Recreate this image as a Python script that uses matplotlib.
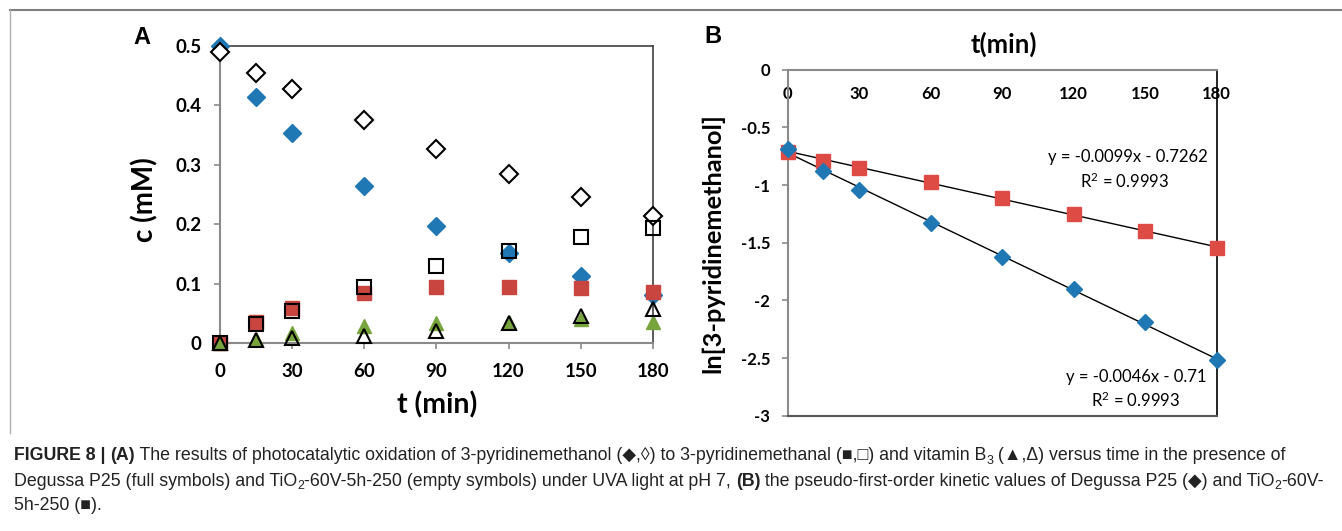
import numpy as np
import matplotlib
matplotlib.use("Agg")
import matplotlib.pyplot as plt
from matplotlib.ticker import FuncFormatter, FixedLocator
from matplotlib import font_manager

plt.rcParams['axes.unicode_minus'] = False
plt.rcParams['mathtext.default'] = 'regular'

# ---------------- data ----------------
t = [0, 15, 30, 60, 90, 120, 150, 180]
# Panel A: concentration c (mM)
alc_p25 = [0.500, 0.414, 0.354, 0.264, 0.197, 0.151, 0.113, 0.080]   # filled diamonds
alc_tio2 = [0.490, 0.455, 0.428, 0.376, 0.327, 0.285, 0.246, 0.213]  # empty diamonds
ald_p25 = [0.000, 0.035, 0.059, 0.084, 0.094, 0.095, 0.092, 0.086]   # filled squares
ald_tio2 = [0.000, 0.032, 0.054, 0.095, 0.130, 0.155, 0.178, 0.193]  # empty squares
b3_p25 = [0.000, 0.006, 0.016, 0.028, 0.034, 0.036, 0.040, 0.036]    # filled triangles
b3_tio2 = [0.000, 0.005, 0.008, 0.012, 0.021, 0.034, 0.045, 0.057]   # empty triangles

# Panel B: ln[3-pyridinemethanol]
ln_p25 = [-0.69, -0.88, -1.04, -1.33, -1.62, -1.90, -2.19, -2.52]
ln_tio2 = [-0.71, -0.79, -0.85, -0.97, -1.11, -1.25, -1.40, -1.55]

xticks = [0, 30, 60, 90, 120, 150, 180]
yticksA = [0, 0.1, 0.2, 0.3, 0.4, 0.5]
yticksB = [0, -0.5, -1, -1.5, -2, -2.5, -3]
eq1 = ["y = -0.0099x - 0.7262", "R$^2$ = 0.9993"]
eq2 = ["y = -0.0046x - 0.71", "R$^2$ = 0.9993"]

W, H = 1342, 531
fig = plt.figure(figsize=(W / 100, H / 100), dpi=100)

def fx(x):
    return x / W

def fy(y):
    return 1 - y / H

BLUE = '#1F77B4'
RED_A = '#C8463F'
RED_B = '#DE4B45'
GREEN = '#77A43C'
TICKFONT = 'Lato'

fmt = FuncFormatter(lambda v, p: '%g' % v)
ms_kw = dict(linestyle='none', clip_on=False)

# ---------------- Panel A ----------------
axA = fig.add_axes([fx(219.5), fy(343), fx(653) - fx(219.5), fy(46) - fy(343)])
axA.set_xlim(0, 180)
axA.set_ylim(0, 0.5)
axA.plot(t, alc_p25, marker='D', ms=8.8, mfc=BLUE, mec=BLUE, zorder=3, **ms_kw)
axA.plot(t, alc_tio2, marker='D', ms=9.2, mfc='white', mec='black', mew=1.5, zorder=4, **ms_kw)
axA.plot(t, ald_p25, marker='s', ms=10, mfc=RED_A, mec=RED_A, zorder=5, **ms_kw)
axA.plot(t, ald_tio2, marker='s', ms=10, mfc='none', mec='black', mew=1.5, zorder=6, **ms_kw)
axA.plot(t, b3_p25, marker='^', ms=10, mfc=GREEN, mec=GREEN, zorder=7, **ms_kw)
axA.plot(t, b3_tio2, marker='^', ms=10, mfc='none', mec='black', mew=1.5, zorder=8, **ms_kw)

axA.xaxis.set_major_locator(FixedLocator(xticks))
axA.yaxis.set_major_locator(FixedLocator(yticksA))
axA.xaxis.set_major_formatter(fmt)
axA.yaxis.set_major_formatter(fmt)
for s in ['left', 'bottom']:
    axA.spines[s].set_color('#8A8A8A')
    axA.spines[s].set_linewidth(1.5)
for s in ['top', 'right']:
    axA.spines[s].set_color('#404040')
    axA.spines[s].set_linewidth(1.2)
axA.tick_params(axis='both', colors='#8A8A8A', length=4.2, width=1.2, direction='out')
axA.tick_params(axis='x', pad=10)
axA.tick_params(axis='y', pad=8.5)
for lab in axA.get_xticklabels() + axA.get_yticklabels():
    lab.set_fontfamily(TICKFONT)
    lab.set_fontweight('bold')
    lab.set_fontsize(13.5)
    lab.set_color('black')

fig.text(fx(437), fy(405), 't (min)', ha='center', va='center', fontsize=20.5,
         fontweight='bold', family=TICKFONT)
fig.text(fx(145), fy(200), 'c (mM)', ha='center', va='center', fontsize=20,
         fontweight='bold', family=TICKFONT, rotation=90)
fig.text(fx(142), fy(37), 'A', ha='center', va='center', fontsize=17,
         fontweight='bold', family='Liberation Sans')

# ---------------- Panel B ----------------
axB = fig.add_axes([fx(787.7), fy(415.7), fx(1216.7) - fx(787.7), fy(69.7) - fy(415.7)])
axB.set_xlim(0, 180)
axB.set_ylim(-3, 0)
axB.plot(t, ln_p25, marker='D', ms=8.5, mfc=BLUE, mec=BLUE, zorder=5, **ms_kw)
axB.plot(t, ln_tio2, marker='s', ms=10.5, mfc=RED_B, mec=RED_B, zorder=4, **ms_kw)
tt = np.array([0, 180])
for series in (ln_p25, ln_tio2):
    k, b = np.polyfit(t, series, 1)
    axB.plot(tt, k * tt + b, color='black', lw=1.0, zorder=3)

axB.spines['bottom'].set_position(('data', 0))
axB.spines['bottom'].set_color('#8A8A8A')
axB.spines['bottom'].set_linewidth(1.5)
axB.spines['top'].set_position(('data', -3))
axB.spines['top'].set_color('#555555')
axB.spines['top'].set_linewidth(1.5)
axB.spines['left'].set_color('#8A8A8A')
axB.spines['left'].set_linewidth(1.5)
axB.spines['right'].set_color('black')
axB.spines['right'].set_linewidth(1.2)
axB.xaxis.set_major_locator(FixedLocator(xticks))
axB.yaxis.set_major_locator(FixedLocator(yticksB))
axB.xaxis.set_major_formatter(fmt)
axB.yaxis.set_major_formatter(fmt)
axB.tick_params(axis='x', length=0, pad=12)
axB.tick_params(axis='y', colors='#8A8A8A', length=4.3, width=1.2, direction='out', pad=8.4)
for lab in axB.get_xticklabels() + axB.get_yticklabels():
    lab.set_fontfamily(TICKFONT)
    lab.set_fontweight('bold')
    lab.set_fontsize(12)
    lab.set_color('black')

fig.text(fx(1004), fy(44), 't(min)', ha='center', va='center', fontsize=18.5,
         fontweight='bold', family=TICKFONT)
fig.text(fx(713), fy(243), 'ln[3-pyridinemethanol]', ha='center', va='center', fontsize=18.3,
         fontweight='bold', family=TICKFONT, rotation=90)
fig.text(fx(713), fy(36.5), 'B', ha='center', va='center', fontsize=17,
         fontweight='bold', family='Liberation Sans')

fig.text(fx(1128), fy(157), eq1[0], ha='center', va='center', fontsize=12, family='Lato')
fig.text(fx(1125), fy(181), eq1[1], ha='center', va='center', fontsize=12, family='Lato')
fig.text(fx(1136), fy(377), eq2[0], ha='center', va='center', fontsize=12, family='Lato')
fig.text(fx(1136), fy(400), eq2[1], ha='center', va='center', fontsize=12, family='Lato')

# ---------------- frame ----------------
fig.add_artist(plt.Line2D([fx(10), fx(1342)], [fy(10), fy(10)], color='#808080', lw=1.5))
fig.add_artist(plt.Line2D([fx(10), fx(10)], [fy(10), fy(433)], color='#B0B0B0', lw=1.0))

# ---------------- caption ----------------
renderer = fig.canvas.get_renderer()
try:
    font_manager.findfont(font_manager.FontProperties(family='Liberation Sans Narrow'),
                          fallback_to_default=False)
    CAPFONT = ['Liberation Sans Narrow', 'DejaVu Sans']
except Exception:
    CAPFONT = ['Liberation Sans', 'DejaVu Sans']

def rich_line(x0, yc, segs, size):
    x = fx(x0)
    objs = []
    for txt, style in segs:
        if style == 'sub':
            tobj = fig.text(x, fy(yc + 5), txt, ha='left', va='center', fontsize=size * 0.7,
                            family=CAPFONT, color='#222222')
        else:
            tobj = fig.text(x, fy(yc), txt, ha='left', va='center', fontsize=size,
                            family=CAPFONT, fontweight='bold' if style == 'b' else 'normal',
                            color='#222222')
        bb = tobj.get_window_extent(renderer=renderer)
        x += bb.width / W
        objs.append(tobj)
    return objs, x * W

line1 = [("FIGURE 8 | ", 'b'), ("(A)", 'b'),
         (" The results of photocatalytic oxidation of 3-pyridinemethanol (\u25c6,\u25ca) to 3-pyridinemethanal (\u25a0,\u25a1) and vitamin B", 'n'),
         ("3", 'sub'), (" (\u25b2,\u0394) versus time in the presence of", 'n')]
line2 = [("Degussa P25 (full symbols) and TiO", 'n'), ("2", 'sub'),
         ("-60V-5h-250 (empty symbols) under UVA light at pH 7, ", 'n'), ("(B)", 'b'),
         (" the pseudo-first-order kinetic values of Degussa P25 (\u25c6) and TiO", 'n'),
         ("2", 'sub'), ("-60V-", 'n')]
line3 = [("5h-250 (\u25a0).", 'n')]

X0 = 14
trial = 10.0
objs, xend = rich_line(X0, 456, line1, trial)
for o in objs:
    o.remove()
size = trial * (1293 - X0) / (xend - X0)
rich_line(X0, 456, line1, size)
rich_line(X0, 481, line2, size)
rich_line(X0, 506, line3, size)

fig.savefig('out.png', dpi=100)
